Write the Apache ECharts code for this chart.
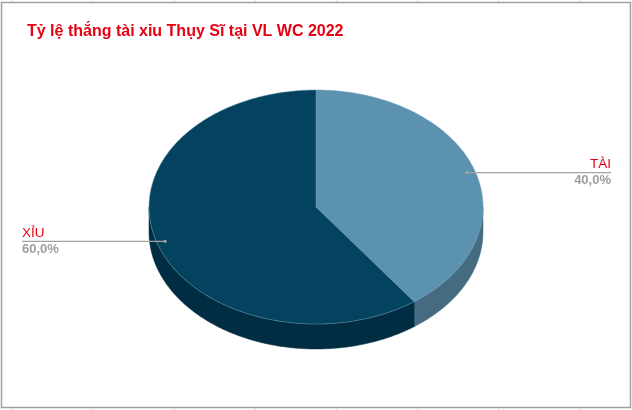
<!DOCTYPE html>
<html>
<head>
<meta charset="utf-8">
<style>html,body{margin:0;padding:0;background:#fff}#c{width:632px;height:410px}</style>
<script src="https://cdn.jsdelivr.net/npm/echarts@6/dist/echarts.min.js"></script>
</head>
<body>
<div id="c"></div>
<script>
const titleText = 'Tỷ lệ thắng tài xỉu Thụy Sĩ tại VL WC 2022';
const categories = ['TÀI', 'XỈU'];
const seriesValues = [40, 60];

const CX = 316, CY = 207, RX = 167, RY = 117, DEPTH = 25;
const topColors = ['#5a92b0', '#03435f'];
const sideColors = ['#446b80', '#002d42'];
const labelLayout = [
  { x: 611, align: 'right' },
  { x: 22, align: 'left' }
];
const total = seriesValues.reduce((a, b) => a + b, 0);
const startOf = i => seriesValues.slice(0, i).reduce((a, b) => a + b, 0) / total * Math.PI * 2;
const px = a => CX + RX * Math.sin(a);
const py = a => CY - RY * Math.cos(a);

function arc(a0, a1, dy, reverse) {
  const n = Math.max(2, Math.ceil((a1 - a0) / 0.01));
  const pts = [];
  for (let k = 0; k <= n; k++) {
    const a = a0 + (a1 - a0) * k / n;
    pts.push([px(a), py(a) + dy]);
  }
  return reverse ? pts.reverse() : pts;
}

function renderSlice(params, api) {
  const i = params.dataIndex;
  const value = api.value(0);
  const a0 = startOf(i), a1 = a0 + value / total * Math.PI * 2;
  const children = [];
  const s0 = Math.max(a0, Math.PI / 2), s1 = Math.min(a1, Math.PI * 1.5);
  if (s1 > s0) {
    children.push({
      type: 'polygon', z2: 1,
      shape: { points: arc(s0, s1, 0).concat(arc(s0, s1, DEPTH, true)) },
      style: { fill: sideColors[i], stroke: sideColors[i], lineWidth: 0.5 }
    });
  }
  children.push({
    type: 'polygon', z2: 2,
    shape: { points: [[CX, CY]].concat(arc(a0, a1, 0)) },
    style: { fill: topColors[i], stroke: '#6f9db6', lineWidth: 0.5 }
  });
  const mid = (a0 + a1) / 2;
  const dotX = CX + RX * 0.95 * Math.sin(mid), dotY = CY - RY * 0.95 * Math.cos(mid);
  const L = labelLayout[i];
  children.push({
    type: 'polyline', z2: 3,
    shape: { points: [[dotX, dotY], [L.x, dotY]] },
    style: { stroke: '#a3a3a3', lineWidth: 1.2, fill: null }
  });
  children.push({
    type: 'circle', z2: 4,
    shape: { cx: dotX, cy: dotY, r: 1.6 },
    style: { fill: '#a3a3a3' }
  });
  children.push({
    type: 'text', z2: 5,
    style: { text: categories[i], x: L.x, y: dotY - 1, align: L.align, verticalAlign: 'bottom',
      fill: '#e60012', font: '13.5px "Liberation Sans", Arial, sans-serif' }
  });
  children.push({
    type: 'text', z2: 5,
    style: { text: (value / total * 100).toFixed(1).replace('.', ',') + '%', x: L.x, y: dotY + 1.5, align: L.align, verticalAlign: 'top',
      fill: '#9e9e9e', font: 'bold 13px "Liberation Sans", Arial, sans-serif' }
  });
  return { type: 'group', children };
}

const gridTicks = [];
for (let x = 12; x < 632; x += 81.1) {
  gridTicks.push({ type: 'line', silent: true, shape: { x1: x, y1: 0, x2: x, y2: 2 }, style: { stroke: '#d8d8d8', lineWidth: 1 } });
  gridTicks.push({ type: 'line', silent: true, shape: { x1: x, y1: 408, x2: x, y2: 410 }, style: { stroke: '#d8d8d8', lineWidth: 1 } });
}

const chart = echarts.init(document.getElementById('c'), null, { renderer: 'canvas' });
chart.setOption({
  animation: false,
  backgroundColor: '#ffffff',
  title: {
    text: titleText, left: 22, top: 19,
    textStyle: { color: '#e60012', fontFamily: '"Liberation Sans", Arial, sans-serif', fontSize: 16, fontWeight: 'bold' }
  },
  graphic: [{
    type: 'rect', silent: true,
    shape: { x: 1.5, y: 2.5, width: 629, height: 405 },
    style: { fill: 'none', stroke: '#a0a0a0', lineWidth: 1.5 }
  }].concat(gridTicks),
  series: [{
    type: 'custom',
    coordinateSystem: 'none',
    silent: true,
    renderItem: renderSlice,
    data: seriesValues.map((v, i) => ({ name: categories[i], value: [v] }))
  }]
});
</script>
</body>
</html>
